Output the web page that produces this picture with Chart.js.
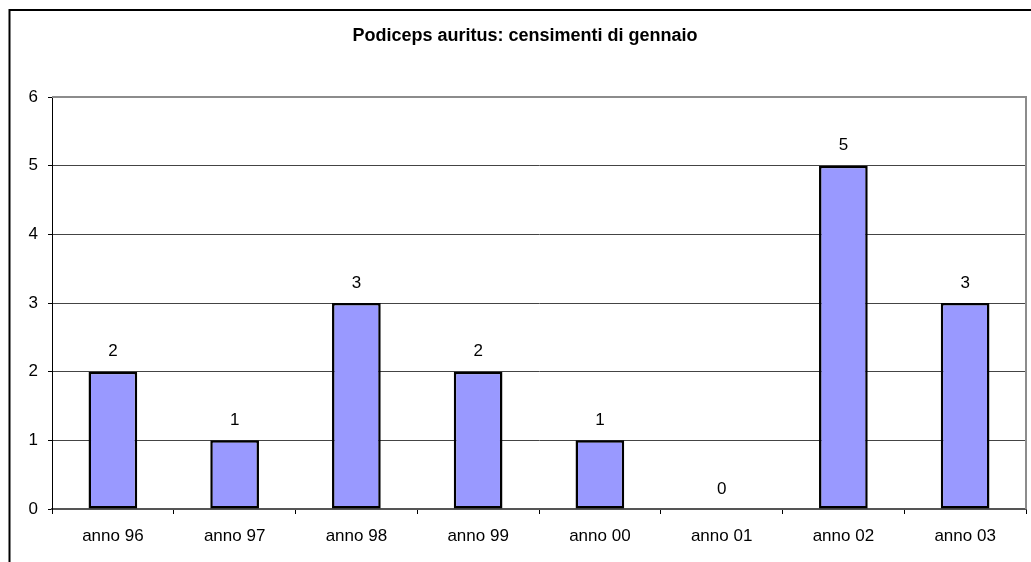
<!DOCTYPE html>
<html>
<head>
<meta charset="utf-8">
<script src="https://cdn.jsdelivr.net/npm/chart.js@4"></script>
<style>
html,body{margin:0;padding:0;background:#fff;}
#wrap{width:1031px;height:562px;position:relative;}
</style>
</head>
<body>
<div id="wrap"><canvas id="c" width="1031" height="562"></canvas></div>
<script>
const chartTitle = "Podiceps auritus: censimenti di gennaio";
const categories = ["anno 96","anno 97","anno 98","anno 99","anno 00","anno 01","anno 02","anno 03"];
const counts = [2,1,3,2,1,0,5,3];
const yTicks = [0,1,2,3,4,5,6];

const FONT = "'Liberation Sans', Arial, sans-serif";

const framePlugin = {
  id: 'frame',
  beforeDraw(chart){
    const ctx = chart.ctx;
    ctx.save();
    ctx.fillStyle = '#fff';
    ctx.fillRect(0,0,chart.width,chart.height);
    ctx.strokeStyle = '#000';
    ctx.lineWidth = 2;
    ctx.beginPath();
    ctx.moveTo(9.5, 600);
    ctx.lineTo(9.5, 10);
    ctx.lineTo(1031, 10);
    ctx.stroke();
    ctx.restore();
  },
  afterDraw(chart){
    const ctx = chart.ctx, a = chart.chartArea;
    ctx.save();
    ctx.strokeStyle = '#8c8c8c';
    ctx.lineWidth = 2;
    ctx.beginPath();
    ctx.moveTo(a.left, a.top);
    ctx.lineTo(a.right, a.top);
    ctx.lineTo(a.right, a.bottom);
    ctx.stroke();
    ctx.fillStyle = '#000';
    ctx.font = "bold 18px " + FONT;
    ctx.textAlign = 'center';
    ctx.textBaseline = 'middle';
    ctx.fillText(chartTitle, 525, 36);
    ctx.restore();
  },
  afterDatasetsDraw(chart){
    const ctx = chart.ctx;
    const meta = chart.getDatasetMeta(0);
    ctx.save();
    ctx.fillStyle = '#000';
    ctx.font = "17px " + FONT;
    ctx.textAlign = 'center';
    ctx.textBaseline = 'middle';
    meta.data.forEach((bar, i) => {
      ctx.fillText(String(counts[i]), bar.x, bar.y - 20);
    });
    ctx.restore();
  }
};

new Chart(document.getElementById('c'), {
  type: 'bar',
  data: {
    labels: categories,
    datasets: [{
      data: counts,
      backgroundColor: '#9999ff',
      borderColor: '#000',
      borderWidth: 2.5,
      borderSkipped: false,
      categoryPercentage: 1,
      barPercentage: 0.4
    }]
  },
  options: {
    responsive: false,
    animation: false,
    devicePixelRatio: 1,
    layout: { padding: { top: 97, right: 5, left: 0, bottom: 0 } },
    plugins: { legend: { display: false }, title: { display: false }, tooltip: { enabled: false } },
    scales: {
      x: {
        offset: true,
        grid: { offset: true, drawOnChartArea: false, drawTicks: true, tickLength: 5, color: '#000', lineWidth: 1 },
        border: { color: '#555', width: 2 },
        ticks: { color: '#000', font: { family: FONT, size: 17 }, padding: 12, maxRotation: 0 },
        afterFit(s){ s.height = 53; }
      },
      y: {
        min: 0, max: 6,
        afterBuildTicks(s){ s.ticks = yTicks.map(v => ({value: v})); },
        grid: { color: '#444', lineWidth: 1, tickLength: 4, tickColor: '#000' },
        border: { color: '#000', width: 1 },
        ticks: { color: '#000', font: { family: FONT, size: 17 }, padding: 10 },
        afterFit(s){ s.width = 52; }
      }
    }
  },
  plugins: [framePlugin]
});
</script>
</body>
</html>
